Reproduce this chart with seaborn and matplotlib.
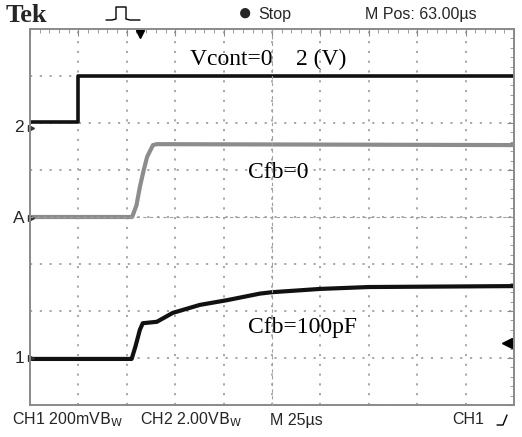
import numpy as np
import pandas as pd
import matplotlib
matplotlib.use("Agg")
import matplotlib.pyplot as plt
import seaborn as sns
from matplotlib.lines import Line2D

# ---------------------------------------------------------
# 数据：示波器截图读数 (单位：格 div)
# ---------------------------------------------------------
ch2_t = [0.0, 0.99, 0.99, 10.0]
ch2_v = [2.02, 2.02, 3.0, 3.0]

math_t = [0.0, 2.11, 2.20, 2.27, 2.35, 2.42, 2.54, 2.62, 10.0]
math_v = [0.0, 0.0, 0.25, 0.64, 1.0, 1.28, 1.53, 1.55, 1.53]

ch1_t = [0.0, 2.10, 2.18, 2.27, 2.33, 2.62, 2.95, 3.51, 4.07, 4.75, 5.0, 6.0, 7.0, 8.5, 10.0]
ch1_v = [-3.02, -3.02, -2.75, -2.40, -2.26, -2.23, -2.04, -1.87, -1.77, -1.63, -1.60, -1.53, -1.49, -1.48, -1.47]

trace_labels = ['Vcont=0    2 (V)', 'Cfb=0', 'Cfb=100pF']
label_pos_t = [3.3, 4.5, 4.5]
label_pos_v = [3.35, 0.95, -2.35]

gnd_names = ['2', 'A', '1']
gnd_levels = [1.9, -0.03, -3.0]

# ---------------------------------------------------------
# 绘图
# ---------------------------------------------------------
sns.set_style("white")
plt.rcParams['font.family'] = ['Liberation Sans', 'DejaVu Sans']

fig = plt.figure(figsize=(5.22, 4.37), dpi=100)
ax = fig.add_axes([30 / 522, 32 / 437, 484 / 522, 376 / 437])

sns.lineplot(x=ch2_t, y=ch2_v, sort=False, estimator=None, color='#111111', lw=2.6, ax=ax)
sns.lineplot(x=math_t, y=math_v, sort=False, estimator=None, color='#8c8c8c', lw=3.0, ax=ax)
sns.lineplot(x=ch1_t, y=ch1_v, sort=False, estimator=None, color='#111111', lw=3.0, ax=ax)

ax.set_xlim(0, 10)
ax.set_ylim(-4, 4)
ax.set_xticks(np.arange(0, 11, 1))
ax.set_yticks(np.arange(-4, 5, 1))
ax.set_xticks(np.arange(0, 10.01, 0.2), minor=True)
ax.set_yticks(np.arange(-4, 4.01, 0.2), minor=True)
ax.tick_params(which='both', direction='in', top=True, right=True,
               labelbottom=False, labelleft=False, color='#8a8a8a')
ax.tick_params(which='major', length=5)
ax.tick_params(which='minor', length=3)
ax.grid(True, which='major', color='#8f8f8f', lw=1.1, linestyle=(0, (1.4, 5.0)))
for s in ax.spines.values():
    s.set_color('#8a8a8a')
    s.set_linewidth(1.4)

# 中心十字刻度线
cx = fig.add_axes(ax.get_position(), facecolor='none', sharex=ax, sharey=ax)
cx.spines['left'].set_position(('data', 5))
cx.spines['bottom'].set_position(('data', 0))
cx.spines['right'].set_visible(False)
cx.spines['top'].set_visible(False)
for k in ['left', 'bottom']:
    cx.spines[k].set_color('#a0a0a0')
    cx.spines[k].set_linestyle((0, (2, 4)))
cx.tick_params(which='both', direction='inout', labelbottom=False, labelleft=False, color='#8a8a8a')
cx.tick_params(which='minor', length=6, width=1.1)
cx.tick_params(which='major', length=8)
cx.grid(False)

for txt, tx, ty in zip(trace_labels, label_pos_t, label_pos_v):
    ax.text(tx, ty, txt, fontsize=17, family='Liberation Serif', color='black', va='center')

for name, lv in zip(gnd_names, gnd_levels):
    ax.text(-0.12, lv, name, fontsize=12.5, ha='right', va='center', clip_on=False)
    ax.plot([0.02], [lv], marker='>', ms=4.5, color='#333333', clip_on=False)

# 触发标记
ax.plot([9.85], [-2.68], marker='<', ms=7, color='black', clip_on=False)
ax.plot([2.27], [3.9], marker='v', ms=6, color='black', clip_on=False)

# 顶部与底部状态栏
fig.text(6 / 522, 1 - 15 / 437, 'Tek', fontsize=19, family='Liberation Serif', weight='bold', va='center')
fig.add_artist(Line2D(np.array([106, 112, 116, 116, 126, 126, 130, 140]) / 522,
                      1 - np.array([20, 20, 19, 7, 7, 19, 20, 20]) / 437, color='black', lw=1))
fig.text(238 / 522, 1 - 14 / 437, '\u25cf', fontsize=17, va='center')
fig.text(258 / 522, 1 - 14 / 437, 'Stop', fontsize=11.5, va='center')
fig.text(365 / 522, 1 - 14 / 437, 'M Pos: 63.00\u00b5s', fontsize=11.5, va='center')

fig.text(12 / 522, 1 - 420 / 437, 'CH1 200mV$\\mathrm{B_W}$', fontsize=11.5, va='center')
fig.text(140 / 522, 1 - 420 / 437, 'CH2 2.00V$\\mathrm{B_W}$', fontsize=11.5, va='center')
fig.text(270 / 522, 1 - 420 / 437, 'M 25\u00b5s', fontsize=11.5, va='center')
fig.text(452 / 522, 1 - 420 / 437, 'CH1', fontsize=11.5, va='center')
fig.add_artist(Line2D(np.array([497, 503, 507]) / 522, 1 - np.array([425, 425, 415]) / 437, color='black', lw=1))

fig.savefig('out.png', dpi=100)
